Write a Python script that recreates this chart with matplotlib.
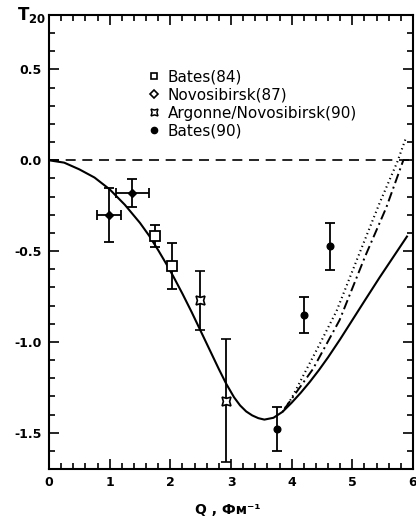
import matplotlib
matplotlib.use("Agg")
import matplotlib.pyplot as plt
from matplotlib.ticker import MultipleLocator, FixedLocator
from matplotlib.lines import Line2D

plt.rcParams['font.family'] = ['DejaVu Sans']
plt.rcParams['mathtext.default'] = 'regular'

# Bates (84)
bates84_q = [1.75, 2.03]
bates84_t = [-0.417, -0.583]
bates84_err = [0.06, 0.126]

# Novosibirsk (87)
novo87_q = [0.99, 1.375]
novo87_t = [-0.30, -0.18]
novo87_qerr = [0.20, 0.27]
novo87_err = [0.15, 0.075]

# Argonne/Novosibirsk (90)
argo90_q = [2.49, 2.92]
argo90_t = [-0.77, -1.324]
argo90_err = [0.163, 0.34]

# Bates (90)
bates90_q = [3.76, 4.21, 4.64]
bates90_t = [-1.479, -0.853, -0.474]
bates90_err = [0.12, 0.098, 0.13]

# Theory curves
solid_q = [0.0, 0.25, 0.5, 0.75, 1.0, 1.25, 1.5, 1.65, 1.8, 1.95, 2.05, 2.2, 2.35, 2.5,
           2.6, 2.7, 2.8, 2.92, 3.05, 3.15, 3.25, 3.35, 3.45, 3.55, 3.7, 3.85, 4.0, 4.15,
           4.3, 4.45, 4.6, 4.8, 5.0, 5.2, 5.45, 5.7, 5.9]
solid_t = [0.0, -0.013, -0.05, -0.095, -0.16, -0.245, -0.345, -0.415, -0.495, -0.58,
           -0.64, -0.735, -0.835, -0.94, -1.01, -1.08, -1.15, -1.23, -1.305, -1.35,
           -1.383, -1.405, -1.42, -1.428, -1.418, -1.385, -1.335, -1.28, -1.22, -1.155,
           -1.085, -0.985, -0.88, -0.775, -0.645, -0.52, -0.42]
dotted_q = [3.85, 4.0, 4.2, 4.45, 4.74, 5.12, 5.45, 5.74, 5.88]
dotted_t = [-1.385, -1.31, -1.18, -1.02, -0.83, -0.51, -0.235, -0.01, 0.12]
dashdot_q = [3.88, 4.05, 4.35, 4.79, 5.21, 5.56, 5.84]
dashdot_t = [-1.37, -1.29, -1.15, -0.88, -0.53, -0.26, 0.0]

xticks = [0, 1, 2, 3, 4, 5, 6]
yticks = [-1.5, -1.0, -0.5, 0.0, 0.5]
ytick_labels = ['-1.5', '-1.0', '-0.5', '0.0', '0.5']

fig = plt.figure(figsize=(4.16, 5.19), dpi=100)
ax = fig.add_axes([49 / 416, 1 - 469 / 519, 364 / 416, 454 / 519])
ax.set_xlim(0, 6)
ax.set_ylim(-1.7, 0.8)

ax.axhline(0.0, color='black', lw=1.2, ls=(0, (6, 4)), zorder=1)
ax.plot(solid_q, solid_t, color='black', lw=1.5, zorder=3)
ax.plot(dotted_q, dotted_t, color='black', lw=1.5, ls=(0, (0.6, 1.6)), zorder=3)
ax.plot(dashdot_q, dashdot_t, color='black', lw=1.4, ls=(0, (5, 2, 1, 2)), zorder=3)

eb = dict(color='black', elinewidth=1.3, capsize=3.5, capthick=1.3, ls='none', zorder=4)
ax.errorbar(bates84_q, bates84_t, yerr=bates84_err, marker='s', ms=7, mfc='white',
            mec='black', mew=1.3, **eb)
ax.errorbar(novo87_q, novo87_t, xerr=novo87_qerr, yerr=novo87_err, marker='D', ms=4.5,
            mfc='black', mec='black', **eb)
ax.errorbar(argo90_q, argo90_t, yerr=argo90_err, marker=(4, 1, 45), ms=9, mfc='white',
            mec='black', mew=1.2, **eb)
ax.errorbar(bates90_q, bates90_t, yerr=bates90_err, marker='o', ms=4.8, mfc='black',
            mec='black', **eb)

handles = [
    Line2D([], [], ls='none', marker='s', ms=5, mfc='white', mec='black', mew=1.2),
    Line2D([], [], ls='none', marker='D', ms=4, mfc='white', mec='black', mew=1.2),
    Line2D([], [], ls='none', marker=(4, 1, 45), ms=7, mfc='white', mec='black', mew=1.1),
    Line2D([], [], ls='none', marker='o', ms=4.5, mfc='black', mec='black'),
]
labels = ['Bates(84)', 'Novosibirsk(87)', 'Argonne/Novosibirsk(90)', 'Bates(90)']
ax.legend(handles, labels, loc='upper left', bbox_to_anchor=(0.275, 0.88), frameon=False,
          handlelength=0.7, handletextpad=0.5, labelspacing=0.2, borderpad=0,
          borderaxespad=0, prop=dict(size=11))

ax.xaxis.set_major_locator(FixedLocator(xticks))
ax.xaxis.set_minor_locator(MultipleLocator(0.2))
ax.yaxis.set_major_locator(FixedLocator(yticks))
ax.yaxis.set_minor_locator(MultipleLocator(0.1))
ax.set_yticklabels(ytick_labels)
ax.tick_params(which='both', direction='in', top=True, right=True, width=1.2)
ax.tick_params(which='major', length=7, labelsize=9, pad=5)
ax.tick_params(which='minor', length=4)
for lab in ax.get_xticklabels() + ax.get_yticklabels():
    lab.set_fontweight('bold')
for sp in ax.spines.values():
    sp.set_linewidth(1.5)

fig.text(17 / 416, 1 - 20 / 519, r'$T_{20}$', fontsize=12, fontweight='bold',
         ha='left', va='baseline')
fig.text(195 / 416, 1 - 514 / 519, 'Q , Фм⁻¹', fontsize=10, fontweight='bold',
         ha='left', va='baseline')

fig.savefig('out.png', dpi=100, facecolor='white')
